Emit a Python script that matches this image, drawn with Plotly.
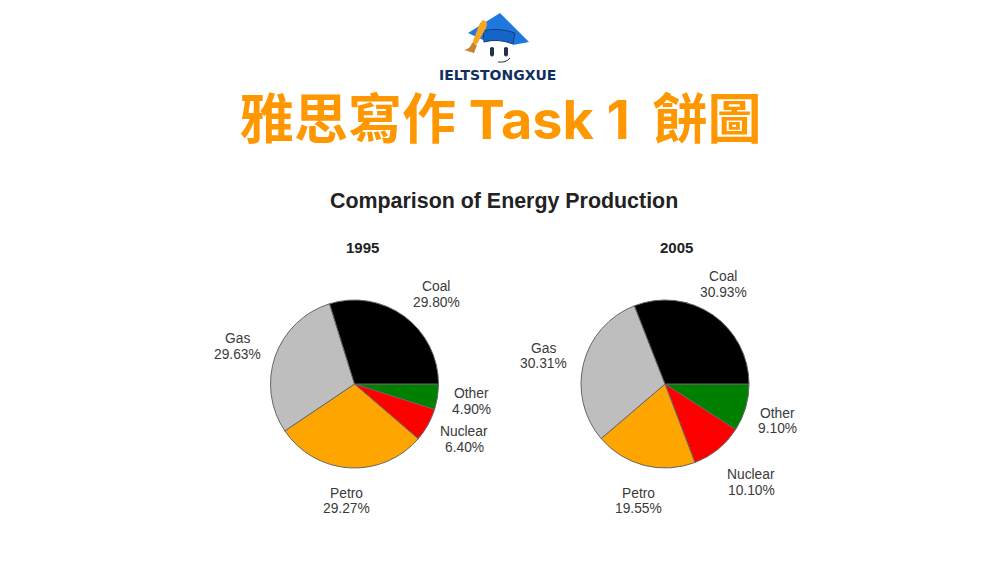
"""Comparison of Energy Production - two pies under the IELTS banner"""

import plotly.graph_objects as go

WIDTH = 1000
HEIGHT = 563

# Data
sources = ['Coal', 'Gas', 'Petro', 'Nuclear', 'Other']
share_1995 = [29.80, 29.63, 29.27, 6.40, 4.90]
share_2005 = [30.93, 30.31, 19.55, 10.10, 9.10]
slice_colors = ['#000000', '#BEBEBE', '#FFA500', '#FF0000', '#008000']

# label centres in pixels (name line y, value line y)
label_pos_1995 = [(436, 286, 302), (237, 338, 354), (346, 493, 508), (464, 431, 447), (471, 393, 409)]
label_pos_2005 = [(723, 277, 292), (543, 348, 363), (638, 493, 508), (751, 474, 490), (777, 413, 428)]


def px_x(x):
    return x / WIDTH


def px_y(y):
    return 1 - y / HEIGHT


def add_text(fig, x, y, text, size, color='#3a3a3a', family='Liberation Sans', bold=False):
    if bold:
        text = f'<b>{text}</b>'
    fig.add_annotation(x=px_x(x), y=px_y(y), xref='paper', yref='paper', text=text,
                       showarrow=False, xanchor='center', yanchor='middle',
                       font=dict(size=size, color=color, family=family))


def add_pie(fig, values, name, cx, cy, radius):
    # clockwise from 3 o'clock, so the slices go in reverse order
    fig.add_trace(go.Pie(
        labels=sources[::-1], values=values[::-1], name=name, sort=False,
        direction='clockwise', rotation=90, textinfo='none', hoverinfo='label+percent',
        marker=dict(colors=slice_colors[::-1], line=dict(color='#666666', width=1)),
        domain=dict(x=[px_x(cx - radius), px_x(cx + radius)],
                    y=[px_y(cy + radius), px_y(cy - radius)]),
        showlegend=False,
    ))


def add_logo(fig):
    # graduation cap, tassel and face drawn by hand
    shapes = [
        ('M 468 33 L 500 13 L 529 42 L 513 45 L 515 33 Q 498 27 483 31 L 483 40 Z', '#1E78E0', 'rgba(0,0,0,0)'),
        ('M 483 31 Q 498 27 515 33 L 513 44 Q 498 38 484 42 Z', '#1565C8', '#123A7A'),
        ('M 483 20 Q 489 21 486 28 L 477 44 L 472 44 Q 477 30 480 23 Z', '#F5A623', 'rgba(0,0,0,0)'),
        ('M 472 43 L 477 45 L 474 53 L 464 50 Q 470 49 472 43 Z', '#C8842A', 'rgba(0,0,0,0)'),
        ('M 490 48 Q 492 46 494 48 L 494 55 Q 492 58 490 55 Z', '#22304F', 'rgba(0,0,0,0)'),
        ('M 504 48 Q 506 46 508 48 L 508 55 Q 506 58 504 55 Z', '#22304F', 'rgba(0,0,0,0)'),
    ]
    for path, fill, line in shapes:
        fig.add_shape(type='path', path=path, xref='paper', yref='paper', fillcolor=fill,
                      line=dict(color=line, width=1))
    fig.add_shape(type='path', path='M 498 62 Q 506 63 510 58', line=dict(color='#22304F', width=1))


def to_paper_paths(fig):
    # shape paths are written in pixels, convert to the paper range
    for shape in fig.layout.shapes:
        parts = shape.path.split()
        out = []
        is_x = True
        for p in parts:
            if p.isalpha():
                out.append(p)
                is_x = True
            else:
                out.append(str(px_x(float(p)) if is_x else px_y(float(p))))
                is_x = not is_x
        shape.path = ' '.join(out)
        shape.xref = 'paper'
        shape.yref = 'paper'


fig = go.Figure()
add_pie(fig, share_1995, '1995', 354.5, 384, 84)
add_pie(fig, share_2005, '2005', 665, 384, 84)

for values, positions in [(share_1995, label_pos_1995), (share_2005, label_pos_2005)]:
    for source, value, (x, y1, y2) in zip(sources, values, positions):
        add_text(fig, x, y1, source, 13.8)
        add_text(fig, x, y2, f'{value:.2f}%', 13.8)

add_text(fig, 504, 201, 'Comparison of Energy Production', 21.4, color='#222222', bold=True)
add_text(fig, 362, 247, '1995', 15, color='#222222', bold=True)
add_text(fig, 676, 247, '2005', 15, color='#222222', bold=True)

add_text(fig, 497, 75, 'IELTSTONGXUE', 14, color='#12305F', family='DejaVu Sans', bold=True)

cjk = 'font-family:Noto Sans CJK TC'
banner = f'<span style="{cjk}">雅思寫作</span> Task 1 <span style="{cjk}">\u2009餅圖</span>'
add_text(fig, 500, 115, banner, 54, color='#FF9800', family='Inter', bold=True)

add_logo(fig)
to_paper_paths(fig)

fig.update_layout(width=WIDTH, height=HEIGHT, margin=dict(l=0, r=0, t=0, b=0),
                  paper_bgcolor='white', plot_bgcolor='white')
# the page's default body margin would push the figure 8px off
fig.write_html("out.html", config=dict(displayModeBar=False),
               post_script='document.body.style.margin = "0";')
